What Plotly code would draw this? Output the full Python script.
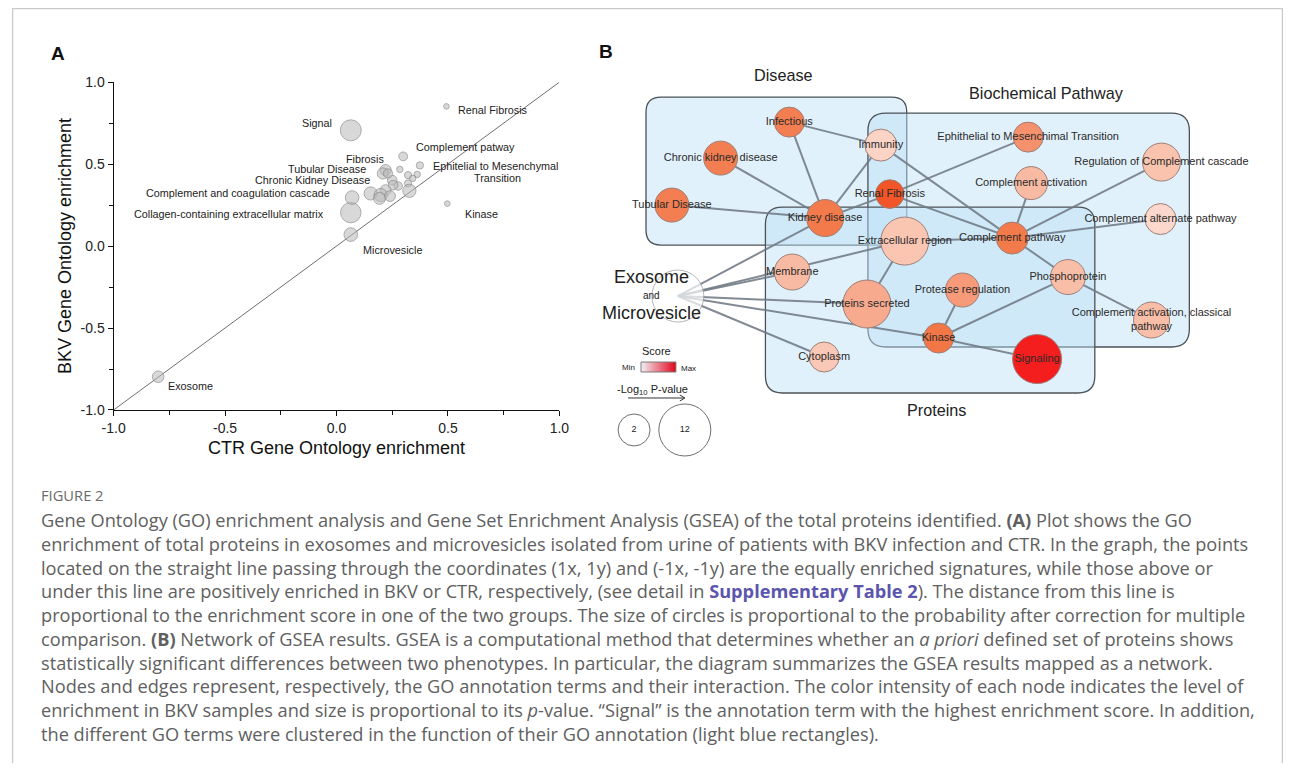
import plotly.graph_objects as go
import numpy as np

# ---------------- Panel A data (GO enrichment) ----------------
ctr_enrichment = [0.493, 0.064, 0.299, 0.497, -0.800, 0.064, 0.070, 0.064, 0.220, 0.208, 0.250, 0.374,
                  0.231, 0.284, 0.321, 0.362, 0.342, 0.277, 0.321, 0.254, 0.220, 0.153, 0.198, 0.193, 0.240, 0.327]
bkv_enrichment = [0.852, 0.706, 0.547, 0.259, -0.797, 0.204, 0.296, 0.070, 0.463, 0.443, 0.402, 0.492,
                  0.443, 0.468, 0.433, 0.437, 0.413, 0.366, 0.382, 0.372, 0.341, 0.321, 0.311, 0.291, 0.305, 0.337]
significance = [2.8, 10.5, 4.4, 2.8, 5.8, 10.2, 6.8, 6.8, 5.6, 5.6, 4.8, 3.6,
                4.6, 3.2, 3.6, 3.2, 3.2, 4.2, 3.6, 4.8, 5.4, 6.6, 6.6, 6.0, 5.4, 6.6]

a_labels = ["Renal Fibrosis", "Signal", "Complement patway", "Fibrosis", "Tubular Disease",
            "Chronic Kidney Disease", "Complement and coagulation cascade",
            "Collagen-containing extracellular matrix", "Microvesicle",
            "Ephitelial to Mesenchymal", "Transition", "Kinase", "Exosome"]
a_label_x = [0.538, -0.012, 0.347, 0.127, 0.143, 0.160, -0.020, -0.049, 0.111, 0.712, 0.720, 0.567, -0.766]
a_label_y = [0.831, 0.752, 0.604, 0.533, 0.468, 0.401, 0.324, 0.194, -0.025, 0.488, 0.416, 0.198, -0.854]
a_label_anchor = ["left", "right", "left", "center", "right", "right", "right", "right", "left",
                  "center", "center", "left", "left"]

axis_ticks = [-1.0, -0.5, 0.0, 0.5, 1.0]
axis_tick_text = ["-1.0", "-0.5", "0.0", "0.5", "1.0"]
identity_line = [-1.0, 1.0]

# ---------------- Panel B data (GSEA network) ----------------
node_names = ["Infectious", "Chronic kidney disease", "Tubular Disease", "Kidney disease", "Immunity",
              "Renal Fibrosis", "Extracellular region", "Ephithelial to Mesenchimal Transition",
              "Complement activation", "Regulation of Complement cascade", "Complement alternate pathway",
              "Complement pathway", "Phosphoprotein", "Complement activation, classical<br>pathway",
              "Protease regulation", "Kinase", "Signaling", "Membrane", "Proteins secreted", "Cytoplasm"]
node_score = [0.70, 0.70, 0.70, 0.72, 0.20, 0.86, 0.30, 0.60, 0.38, 0.32, 0.16,
              0.72, 0.35, 0.35, 0.55, 0.74, 1.00, 0.38, 0.47, 0.28]
node_neglog_p = [1.0, 3.0, 3.0, 4.5, 2.0, 0.3, 10.0, 1.0, 2.5, 5.0, 1.5,
                 2.0, 3.5, 4.0, 3.0, 1.0, 10.5, 4.0, 10.0, 1.0]
hub_name = "Exosome and Microvesicle"
hub_neglog_p = 12.0

# network layout (drawing coordinates)
node_layout = {
    "Infectious": (789, 122), "Chronic kidney disease": (720, 158), "Tubular Disease": (671, 205),
    "Kidney disease": (825, 218), "Immunity": (881, 145), "Renal Fibrosis": (890, 194),
    "Extracellular region": (905, 241), "Ephithelial to Mesenchimal Transition": (1029, 137),
    "Complement activation": (1032, 183), "Regulation of Complement cascade": (1163, 162),
    "Complement alternate pathway": (1162, 219), "Complement pathway": (1013, 238),
    "Phosphoprotein": (1069, 277), "Complement activation, classical<br>pathway": (1153, 320),
    "Protease regulation": (963, 290), "Kinase": (939, 338), "Signaling": (1038, 359),
    "Membrane": (792, 272), "Proteins secreted": (867, 304), "Cytoplasm": (824, 357),
    hub_name: (677, 296),
}

edges = [
    ("Infectious", "Immunity"), ("Infectious", "Kidney disease"),
    ("Chronic kidney disease", "Kidney disease"), ("Tubular Disease", "Kidney disease"),
    ("Immunity", "Kidney disease"), ("Kidney disease", "Renal Fibrosis"),
    ("Immunity", "Complement pathway"), ("Renal Fibrosis", "Ephithelial to Mesenchimal Transition"),
    ("Renal Fibrosis", "Complement pathway"), ("Complement activation", "Complement pathway"),
    ("Regulation of Complement cascade", "Complement pathway"),
    ("Complement alternate pathway", "Complement pathway"),
    ("Extracellular region", "Complement pathway"), ("Complement pathway", "Phosphoprotein"),
    ("Phosphoprotein", "Complement activation, classical<br>pathway"), ("Phosphoprotein", "Kinase"),
    ("Protease regulation", "Kinase"), ("Kinase", "Signaling"),
    ("Extracellular region", "Proteins secreted"),
    (hub_name, "Kidney disease"), (hub_name, "Membrane"), (hub_name, "Extracellular region"),
    (hub_name, "Proteins secreted"), (hub_name, "Kinase"), (hub_name, "Cytoplasm"),
]

clusters = ["Disease", "Biochemical Pathway", "Proteins"]
cluster_boxes = {"Disease": (645, 97, 907, 245, 15),
                 "Biochemical Pathway": (868, 113, 1191, 347, 18),
                 "Proteins": (765, 207, 1096, 393, 17)}
cluster_title_pos = {"Disease": (783, 75), "Biochemical Pathway": (1047, 93), "Proteins": (937, 410)}

legend_p_values = [2, 12]

caption_title = "FIGURE 2"
caption_lines = [
    "Gene Ontology (GO) enrichment analysis and Gene Set Enrichment Analysis (GSEA) of the total proteins identified. <b>(A)</b> Plot shows the GO",
    "enrichment of total proteins in exosomes and microvesicles isolated from urine of patients with BKV infection and CTR. In the graph, the points",
    "located on the straight line passing through the coordinates (1x, 1y) and (-1x, -1y) are the equally enriched signatures, while those above or",
    "under this line are positively enriched in BKV or CTR, respectively, (see detail in <b><span style='color:#5b55ad'>Supplementary Table 2</span></b>). The distance from this line is",
    "proportional to the enrichment score in one of the two groups. The size of circles is proportional to the probability after correction for multiple",
    "comparison. <b>(B)</b> Network of GSEA results. GSEA is a computational method that determines whether an <i>a priori</i> defined set of proteins shows",
    "statistically significant differences between two phenotypes. In particular, the diagram summarizes the GSEA results mapped as a network.",
    "Nodes and edges represent, respectively, the GO annotation terms and their interaction. The color intensity of each node indicates the level of",
    "enrichment in BKV samples and size is proportional to its <i>p</i>-value. \u201cSignal\u201d is the annotation term with the highest enrichment score. In addition,",
    "the different GO terms were clustered in the function of their GO annotation (light blue rectangles).",
]

# ---------------- styling / drawing frame ----------------
W, H = 1293, 771
PAD = 8
SX, SY = (W + 2 * PAD) / W, (H + 2 * PAD) / H
X0, X1 = PAD / SX, (W + PAD) / SX          # drawing-coordinate span of the page
Y0, Y1 = PAD / SY, (H + PAD) / SY
ARIAL = "Liberation Sans, Arial, sans-serif"
CAP_FONT = "Open Sans, Lato, sans-serif"


def dom_x(p):
    return (p - X0) / (X1 - X0)


def dom_y(p):
    return (Y1 - p) / (Y1 - Y0)


def node_diameter(p):
    return 28 + 2.0 * np.asarray(p, dtype=float)


node_colorscale = [[0.0, "#FCE6DE"], [0.2, "#FBD4C6"], [0.4, "#F8B79E"], [0.6, "#F5916D"],
                   [0.75, "#F27443"], [0.88, "#F24F22"], [1.0, "#F51E1E"]]

fig = go.Figure()

# ---- Panel A ----
fig.add_trace(go.Scatter(x=identity_line, y=identity_line, mode="lines",
                         line=dict(color="#6f6f6f", width=1), xaxis="x", yaxis="y",
                         hoverinfo="skip", showlegend=False))
fig.add_trace(go.Scatter(x=ctr_enrichment, y=bkv_enrichment, mode="markers",
                         marker=dict(size=[2 * s for s in significance], color="rgba(186,186,186,0.8)",
                                     line=dict(color="#888888", width=1)),
                         xaxis="x", yaxis="y", showlegend=False))

annotations = []
for t, x, y, a in zip(a_labels, a_label_x, a_label_y, a_label_anchor):
    annotations.append(dict(text=t, x=x, y=y, xref="x", yref="y", xanchor=a, yanchor="middle",
                            showarrow=False, font=dict(family=ARIAL, size=10.8, color="#222")))

# ---- Panel B ----
for c in clusters:
    x0, y0, x1, y1, r = cluster_boxes[c]
    path = (f"M{x0+r},{y0} L{x1-r},{y0} Q{x1},{y0} {x1},{y0+r} L{x1},{y1-r} Q{x1},{y1} {x1-r},{y1} "
            f"L{x0+r},{y1} Q{x0},{y1} {x0},{y1-r} L{x0},{y0+r} Q{x0},{y0} {x0+r},{y0} Z")
    fig.add_shape(type="path", path=path, xref="x2", yref="y2", layer="below",
                  fillcolor="rgba(188,224,246,0.45)", line=dict(color="#4d5257", width=1.3))
    tx, ty = cluster_title_pos[c]
    annotations.append(dict(text=c, x=tx, y=ty, xref="x2", yref="y2", showarrow=False,
                            font=dict(family=ARIAL, size=16.2, color="#222")))

ex, ey = [], []
for a, b in edges:
    (xa, ya), (xb, yb) = node_layout[a], node_layout[b]
    ex += [xa, xb, None]
    ey += [ya, yb, None]
fig.add_trace(go.Scatter(x=ex, y=ey, mode="lines", line=dict(color="rgba(112,122,132,0.88)", width=2.0),
                         xaxis="x2", yaxis="y2", hoverinfo="skip", showlegend=False))

hx, hy = node_layout[hub_name]
fig.add_trace(go.Scatter(x=[hx], y=[hy], mode="markers",
                         marker=dict(size=node_diameter([hub_neglog_p]), color="white",
                                     line=dict(color="#9a9a9a", width=1)),
                         xaxis="x2", yaxis="y2", showlegend=False))

nx = [node_layout[n][0] for n in node_names]
ny = [node_layout[n][1] for n in node_names]
fig.add_trace(go.Scatter(x=nx, y=ny, mode="markers+text", text=node_names, textposition="middle center",
                         textfont=dict(family=ARIAL, size=11, color="#2a2a2a"),
                         marker=dict(size=node_diameter(node_neglog_p), color=node_score,
                                     colorscale=node_colorscale, cmin=0, cmax=1, opacity=1,
                                     line=dict(color="#9c7f78", width=1)),
                         xaxis="x2", yaxis="y2", showlegend=False, cliponaxis=False))

for t, dy, sz in [("Exosome", -19, 18), ("and", -1, 10), ("Microvesicle", 17, 18)]:
    annotations.append(dict(text=t, x=hx - 26, y=hy + dy, xref="x2", yref="y2", showarrow=False,
                            font=dict(family=ARIAL, size=sz, color="#222")))

# legend: score gradient
fig.add_trace(go.Heatmap(z=[np.linspace(0, 1, 60)], x=np.linspace(640, 675, 61), y=[362, 372],
                         colorscale=[[0, "#F1EEF4"], [1, "#E2061A"]], showscale=False,
                         xaxis="x2", yaxis="y2", hoverinfo="skip"))
fig.add_shape(type="rect", x0=640, x1=675, y0=362, y1=372, xref="x2", yref="y2",
              line=dict(color="#7a7a7a", width=1))
annotations += [
    dict(text="Score", x=656, y=351, xref="x2", yref="y2", showarrow=False,
         font=dict(family=ARIAL, size=11, color="#222")),
    dict(text="Min", x=627, y=367, xref="x2", yref="y2", showarrow=False,
         font=dict(family=ARIAL, size=8, color="#222")),
    dict(text="Max", x=688, y=368, xref="x2", yref="y2", showarrow=False,
         font=dict(family=ARIAL, size=8, color="#222")),
    dict(text="-Log<sub>10</sub> P-value", x=652, y=390, xref="x2", yref="y2", showarrow=False,
         font=dict(family=ARIAL, size=11, color="#222")),
]
fig.add_shape(type="path", path="M627,398 L684,398 M679,395 L684,398 L679,401", xref="x2", yref="y2",
              line=dict(color="#333", width=1))
fig.add_trace(go.Scatter(x=[633, 684], y=[430, 430], mode="markers+text",
                         text=[str(v) for v in legend_p_values], textposition="middle center",
                         textfont=dict(family=ARIAL, size=9, color="#222"),
                         marker=dict(size=node_diameter(legend_p_values), color="white",
                                     line=dict(color="#333", width=1)),
                         xaxis="x2", yaxis="y2", showlegend=False))

# panel letters
annotations += [
    dict(text="<b>A</b>", x=54, y=53, xref="x2", yref="y2", showarrow=False,
         font=dict(family=ARIAL, size=19, color="#111")),
    dict(text="<b>B</b>", x=605, y=51, xref="x2", yref="y2", showarrow=False,
         font=dict(family=ARIAL, size=19, color="#111")),
]

# caption
annotations.append(dict(text=caption_title, x=35, y=495, xref="x2", yref="y2", xanchor="left",
                        showarrow=False, font=dict(family=CAP_FONT, size=14.7, color="#6a6a6a")))
for i, line in enumerate(caption_lines):
    annotations.append(dict(text=line, x=35, y=520 + 23.8 * i, xref="x2", yref="y2", xanchor="left",
                            showarrow=False, font=dict(family=CAP_FONT, size=18.2, color="#606060")))

# frame
fig.add_shape(type="path", path=f"M{X0+0.5},800 L{X0+0.5},{Y0+0.5} L{X1-0.5},{Y0+0.5} L{X1-0.5},800",
              xref="x2", yref="y2", line=dict(color="#c9c9c9", width=1.5))

fig.update_layout(
    width=W, height=H, margin=dict(l=0, r=0, t=0, b=0),
    paper_bgcolor="white", plot_bgcolor="rgba(0,0,0,0)",
    annotations=annotations, showlegend=False,
    xaxis=dict(domain=[dom_x(110), dom_x(558)], range=[-1, 1], anchor="y", tickvals=axis_ticks,
               ticktext=axis_tick_text, showline=True, linecolor="#111", linewidth=1.2, ticks="outside",
               ticklen=5, tickcolor="#111", showgrid=False, zeroline=False,
               minor=dict(dtick=0.25, ticks="outside", ticklen=4, tickcolor="#111"),
               tickfont=dict(family=ARIAL, size=14, color="#222"),
               title=dict(text="CTR Gene Ontology enrichment", standoff=6,
                          font=dict(family=ARIAL, size=18, color="#111"))),
    yaxis=dict(domain=[dom_y(410), dom_y(82)], range=[-1, 1], anchor="x", tickvals=axis_ticks,
               ticktext=axis_tick_text, showline=True, linecolor="#111", linewidth=1.2, ticks="outside",
               ticklen=5, tickcolor="#111", showgrid=False, zeroline=False,
               minor=dict(dtick=0.25, ticks="outside", ticklen=4, tickcolor="#111"),
               tickfont=dict(family=ARIAL, size=14, color="#222"),
               title=dict(text="BKV Gene Ontology enrichment", standoff=4,
                          font=dict(family=ARIAL, size=18, color="#111"))),
    xaxis2=dict(domain=[0, 1], range=[X0, X1], anchor="y2", visible=False),
    yaxis2=dict(domain=[0, 1], range=[Y1, Y0], anchor="x2", visible=False),
)

fig.write_html("out.html", config={"displayModeBar": False},
               post_script="document.body.style.margin='0';document.body.style.overflow='hidden';")
